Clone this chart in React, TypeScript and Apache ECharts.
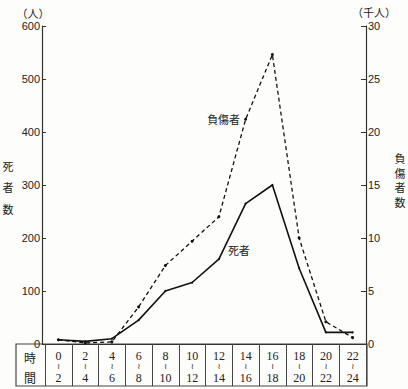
import React, { useEffect, useRef } from "react";
import * as echarts from "echarts";

const categories = ["0~2", "2~4", "4~6", "6~8", "8~10", "10~12", "12~14", "14~16", "16~18", "18~20", "20~22", "22~24"];
const deaths = [8, 5, 10, 45, 100, 116, 160, 265, 300, 143, 22, 22];
const injuredThousands = [0.4, 0.1, 0.2, 3.5, 7.4, 9.7, 12.0, 21.2, 27.3, 10.0, 2.1, 0.6];
const leftTicks = { min: 0, max: 600, interval: 100 };
const rightTicks = { min: 0, max: 30, interval: 5 };
const deathLabelIndex = 6;
const injuredLabelIndex = 7;

const SANS = "Liberation Sans, Arial, sans-serif";
const SERIF = "Liberation Serif, DejaVu Serif, serif";
const CJK = "Noto Sans CJK JP, sans-serif";
const INK = "#222";

export default function App() {
  const ref = useRef<HTMLDivElement>(null);
  useEffect(() => {
    document.body.style.margin = "0";
    const chart = echarts.init(ref.current!, null, { renderer: "svg" });
    const deathData = deaths.map((v, i) =>
      i === deathLabelIndex
        ? { value: v, label: { show: true, position: "right", distance: 8, offset: [0, -9], formatter: "死者", fontFamily: CJK, fontSize: 11, color: INK } }
        : v
    );
    const injuredData = injuredThousands.map((v, i) =>
      i === injuredLabelIndex
        ? { value: v, label: { show: true, position: "left", distance: 4, formatter: "負傷者", fontFamily: CJK, fontSize: 11, color: INK } }
        : v
    );
    chart.setOption({
      animation: false,
      backgroundColor: "#fdfdfb",
      grid: { left: 45, right: 42, top: 26, bottom: 45 },
      xAxis: {
        type: "category",
        data: categories,
        boundaryGap: true,
        axisLine: { lineStyle: { color: "#333", width: 1.2 } },
        axisTick: { show: true, length: 42, lineStyle: { color: "#444", width: 1 } },
        axisLabel: {
          margin: 5,
          interval: 0,
          formatter: (s: string) => {
            const [a, b] = s.split("~");
            return `{n|${a}}\n{s|≀}\n{n|${b}}`;
          },
          rich: {
            n: { fontFamily: SERIF, fontSize: 12, lineHeight: 13, color: INK },
            s: { fontFamily: "DejaVu Sans, sans-serif", fontSize: 8, lineHeight: 9, color: INK },
          },
        },
      },
      yAxis: [
        {
          type: "value",
          ...leftTicks,
          offset: 3,
          axisLine: { show: true, lineStyle: { color: "#333", width: 1.2 } },
          axisTick: { show: true, inside: true, length: 4, lineStyle: { color: "#333" } },
          axisLabel: { margin: 2, fontFamily: SANS, fontSize: 11, color: INK },
          splitLine: { show: false },
        },
        {
          type: "value",
          ...rightTicks,
          position: "right",
          axisLine: { show: true, lineStyle: { color: "#333", width: 1.2 } },
          axisTick: { show: true, inside: true, length: 5, lineStyle: { color: "#333" } },
          axisLabel: { margin: 2, fontFamily: SANS, fontSize: 11, color: INK },
          splitLine: { show: false },
        },
      ],
      series: [
        {
          name: "死者",
          type: "line",
          yAxisIndex: 0,
          data: deathData,
          symbol: "circle",
          symbolSize: 2,
          itemStyle: { color: "#111" },
          lineStyle: { color: "#111", width: 1.6 },
        },
        {
          name: "負傷者",
          type: "line",
          yAxisIndex: 1,
          data: injuredData,
          symbol: "circle",
          symbolSize: 3,
          itemStyle: { color: "#111" },
          lineStyle: { color: "#111", width: 1.3, type: [4, 3] },
        },
      ],
      graphic: [
        { type: "rect", shape: { x: 16, y: 344, width: 351, height: 42 }, style: { fill: "none", stroke: "#444", lineWidth: 1.2 }, silent: true },
        { type: "text", x: 30, y: 357, style: { text: "時", font: `12px ${CJK}`, fill: INK, align: "center", verticalAlign: "middle" } },
        { type: "text", x: 30, y: 377, style: { text: "間", font: `12px ${CJK}`, fill: INK, align: "center", verticalAlign: "middle" } },
        { type: "text", x: 33, y: 13, style: { text: "（人）", font: `11px ${CJK}`, fill: INK, align: "center", verticalAlign: "middle" } },
        { type: "text", x: 374, y: 12, style: { text: "（千人）", font: `11px ${CJK}`, fill: INK, align: "center", verticalAlign: "middle" } },
        { type: "text", x: 8, y: 155, style: { text: "死\n者\n数", font: `11px ${CJK}`, lineHeight: 21.5, fill: INK, align: "center", verticalAlign: "top" } },
        { type: "text", x: 400, y: 151, style: { text: "負\n傷\n者\n数", font: `11px ${CJK}`, lineHeight: 14.5, fill: INK, align: "center", verticalAlign: "top" } },
      ],
    });
    return () => chart.dispose();
  }, []);
  return <div ref={ref} style={{ width: 408, height: 389 }} />;
}
